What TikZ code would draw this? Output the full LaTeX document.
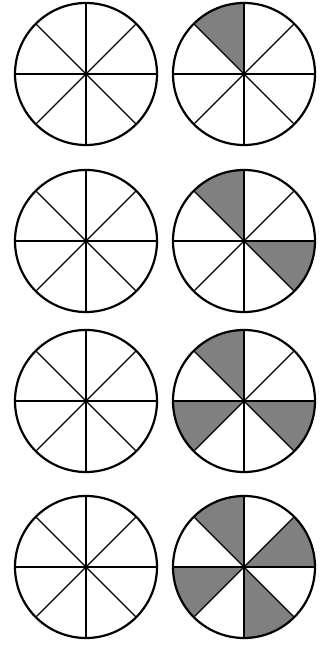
\documentclass[tikz,border=0pt]{standalone}
\usetikzlibrary{calc}
\begin{document}
\begin{tikzpicture}[x=1pt, y=1pt]
  \useasboundingbox (0,0) rectangle (320,645);
  \def\r{71}
  % Shaded eighths in the right column
  \foreach \cy/\list in {571/{90}, 404/{90,315}, 244/{90,180,315}, 78/{90,180,270,0}}{
    \foreach \a in \list {
      \fill[gray] (244,\cy) -- ++(\a:\r) arc[start angle=\a, delta angle=45, radius=\r] -- cycle;
    }
  }
  % Circles cut into eighths
  \foreach \cy in {571,404,244,78}{
    \foreach \cx in {86,244}{
      \coordinate (c) at (\cx,\cy);
      \foreach \a in {0,45,90,135}
        \draw[line width=1.2pt] ($(c)+(\a:\r)$) -- ($(c)+(\a+180:\r)$);
      \draw[line width=2.2pt] (c) circle[radius=\r];
    }
  }
\end{tikzpicture}
\end{document}
